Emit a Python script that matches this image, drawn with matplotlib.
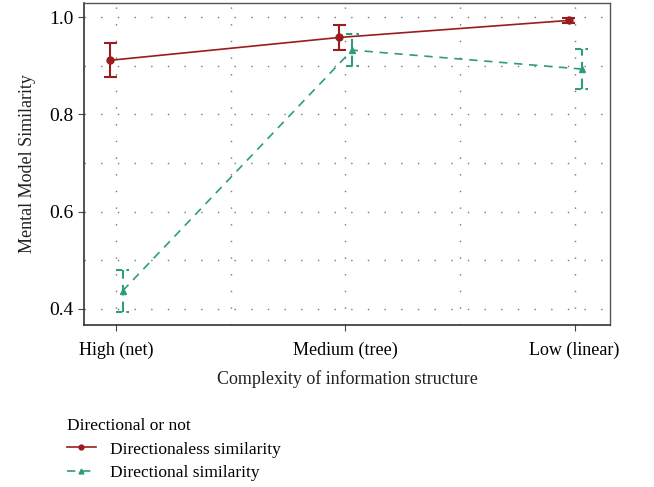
import matplotlib.pyplot as plt
import numpy as np

plt.rcParams['font.family'] = ['Liberation Serif', 'DejaVu Serif']

# data
categories = ["High (net)", "Medium (tree)", "Low (linear)"]
undirected_mean = [0.911, 0.958, 0.993]
undirected_err = [0.035, 0.025, 0.006]
directed_mean = [0.437, 0.932, 0.893]
directed_err = [0.043, 0.033, 0.042]

red = "#9b1c1f"
green = "#2e9c7e"

fig = plt.figure(figsize=(6.54, 4.87), dpi=100)
ax = fig.add_axes([0.128, 0.333, 0.805, 0.661])

x = np.arange(len(categories))
xu = x - 0.025
xd = x + 0.03
cap = 0.028

# directionless: solid line, solid error bars
ax.plot(xu, undirected_mean, color=red, lw=1.2, marker="o", ms=5,
        label="Directionaless similarity", zorder=3)
lo = np.array(undirected_mean) - undirected_err
hi = np.array(undirected_mean) + undirected_err
ax.vlines(xu, lo, hi, color=red, lw=1.5, zorder=3)
ax.hlines(np.r_[lo, hi], np.r_[xu, xu] - cap, np.r_[xu, xu] + cap, color=red, lw=1.5, zorder=3)

# directional: dashed line, dashed error bars
ax.plot(xd, directed_mean, color=green, lw=1.2, ls=(0, (5, 4)), marker="^", ms=5,
        label="Directional similarity", zorder=3)
lo = np.array(directed_mean) - directed_err
hi = np.array(directed_mean) + directed_err
ax.vlines(xd, lo, hi, color=green, lw=1.5, linestyles=(0, (5, 3)), zorder=3)
ax.hlines(np.r_[lo, hi], np.r_[xd, xd] - cap, np.r_[xd, xd] + cap, color=green,
          lw=1.5, linestyles=(0, (3, 2)), zorder=3)

ax.set_xlim(-0.14, 2.155)
ax.set_ylim(0.367, 1.029)
ax.set_xticks(x)
ax.set_xticklabels(categories)
ax.set_xticks([0.5, 1.5], minor=True)
ax.set_yticks([0.4, 0.6, 0.8, 1.0])
ax.set_yticklabels(["0.4", "0.6", "0.8", "1.0"])
ax.set_yticks([0.5, 0.7, 0.9], minor=True)
ax.tick_params(axis="both", which="major", labelsize=13, length=4, color="#444444")
ax.tick_params(axis="y", which="major", labelsize=14)
ax.tick_params(axis="both", which="minor", length=0)
ax.tick_params(axis="x", pad=8)
ax.grid(True, which="both", color="#777777", ls=(0, (1, 11)), lw=1.0)
ax.set_axisbelow(True)
for side in ["left", "bottom"]:
    ax.spines[side].set_color("#333333")
    ax.spines[side].set_linewidth(1.2)
for side in ["top", "right"]:
    ax.spines[side].set_color("#555555")
    ax.spines[side].set_linewidth(1.0)

ax.set_xlabel("Complexity of information structure", fontsize=13, labelpad=8, color="#222222")
ax.set_ylabel("Mental Model Similarity", fontsize=13, labelpad=9, color="#222222")

leg = fig.legend(loc="lower left", bbox_to_anchor=(0.102, 0.013), title="Directional or not",
                 frameon=False, fontsize=12.5, title_fontsize=12.5, alignment="left",
                 handlelength=1.7, handletextpad=0.8, labelspacing=0.4, borderpad=0,
                 borderaxespad=0, markerscale=0.7)

fig.savefig("out.png", dpi=100)
plt.close(fig)
